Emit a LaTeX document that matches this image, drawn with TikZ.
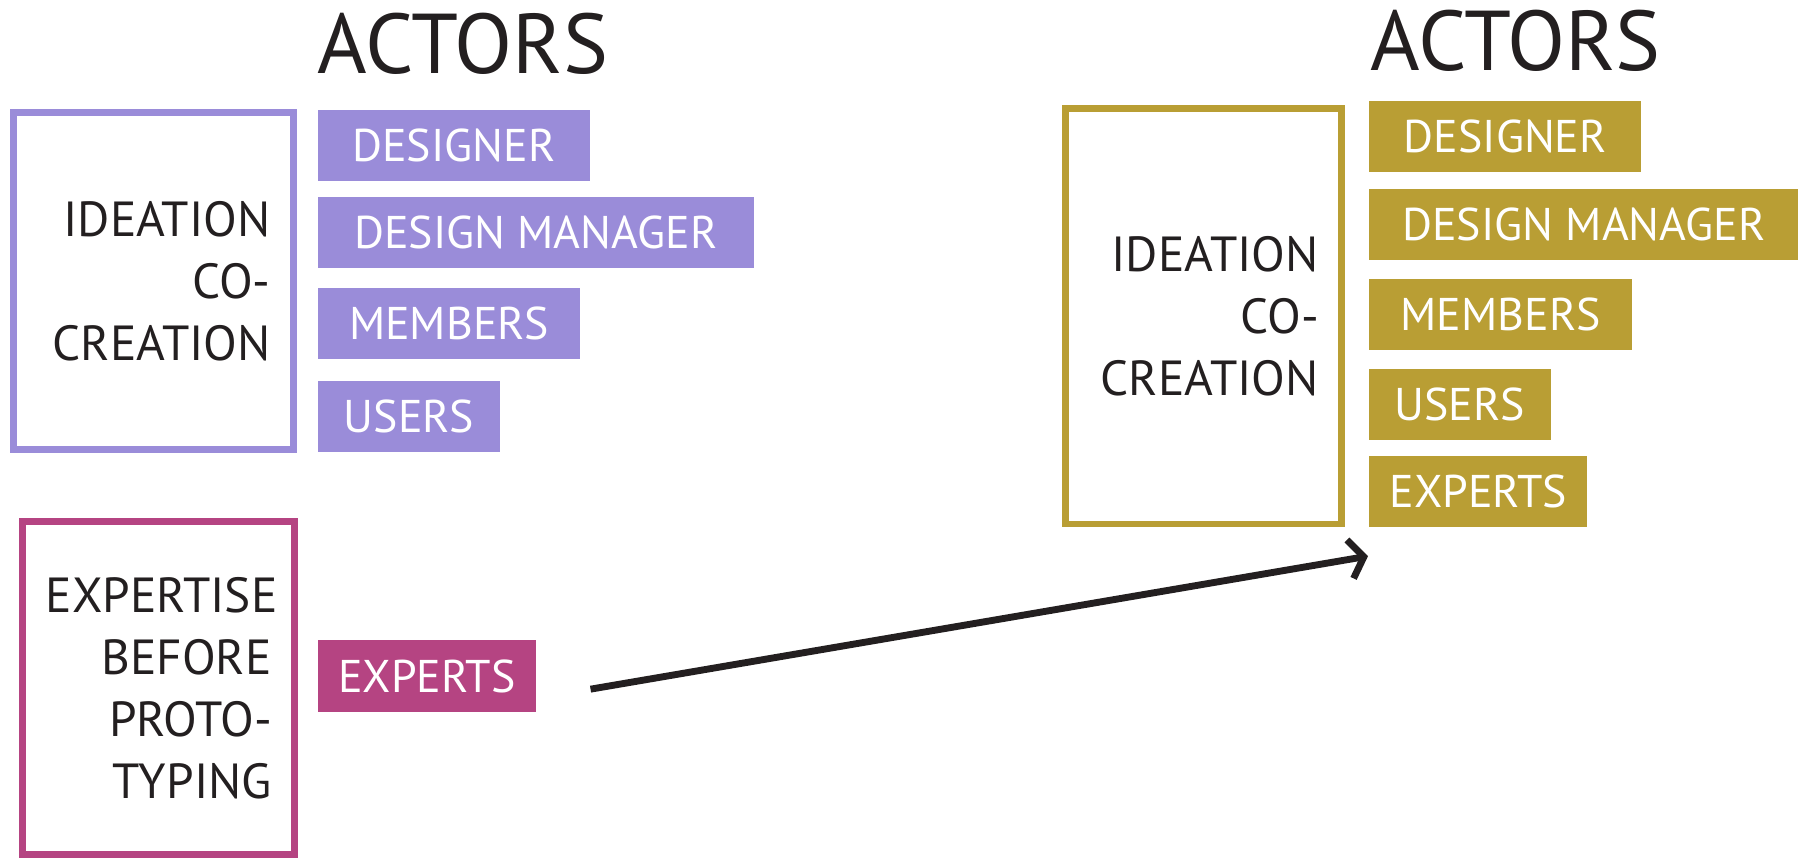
\documentclass[tikz,border=0pt]{standalone}
\usepackage{fontspec}
\setmainfont{PT Sans}
\usetikzlibrary{arrows.meta}

\definecolor{ideapurple}{RGB}{154,140,217}
\definecolor{expertmag}{RGB}{181,68,130}
\definecolor{ideagold}{RGB}{185,158,52}
\definecolor{inkdark}{RGB}{35,31,32}

\begin{document}
\begin{tikzpicture}[x=1pt, y=-1pt]
    % Styles
    \tikzstyle{phase} = [rectangle, line width=6pt, inner xsep=20pt, align=right, text=inkdark, font=\fontsize{43}{54}\selectfont]
    \tikzstyle{actor} = [rectangle, anchor=west, inner sep=0pt, minimum height=62pt, text=white, font=\fontsize{40}{48}\selectfont]
    \tikzstyle{heading} = [anchor=west, inner sep=0pt, text=inkdark, font=\fontsize{74}{80}\selectfont]
    \tikzstyle{arrow} = [-{Straight Barb[length=12pt,width=34pt]}, line width=6pt, draw=inkdark]

    \useasboundingbox (0,0) rectangle (1568,750);

    % Left side - ideation phase
    \node[heading] (actL) at (277,38) {ACTORS};
    \node[phase, draw=ideapurple, minimum width=244pt, minimum height=294pt, text width=204pt] (ideaL) at (134,245) {IDEATION\\CO-\\CREATION};
    \node[actor, fill=ideapurple, minimum width=237pt] (desL) at (277,127) {DESIGNER};
    \node[actor, fill=ideapurple, minimum width=380pt] (manL) at (277,203) {DESIGN MANAGER};
    \node[actor, fill=ideapurple, minimum width=229pt] (memL) at (277,282.5) {MEMBERS};
    \node[actor, fill=ideapurple, minimum width=159pt] (useL) at (277,363.5) {USERS};

    % Left side - expertise phase
    \node[phase, draw=expertmag, minimum width=237pt, minimum height=291pt, text width=197pt] (expertise) at (138.5,600) {EXPERTISE\\BEFORE\\PROTO-\\TYPING};
    \node[actor, fill=expertmag, minimum width=190pt] (expL) at (277,589.5) {EXPERTS};

    % Right side - ideation phase with experts
    \node[heading] (actR) at (1195,36) {ACTORS};
    \node[phase, draw=ideagold, minimum width=241pt, minimum height=362pt, text width=201pt] (ideaR) at (1049.5,276) {IDEATION\\CO-\\CREATION};
    \node[actor, fill=ideagold, minimum width=237pt] (desR) at (1194,119) {DESIGNER};
    \node[actor, fill=ideagold, minimum width=374pt] (manR) at (1194,196) {DESIGN MANAGER};
    \node[actor, fill=ideagold, minimum width=229pt] (memR) at (1194,274) {MEMBERS};
    \node[actor, fill=ideagold, minimum width=158pt] (useR) at (1194,352.5) {USERS};
    \node[actor, fill=ideagold, minimum width=190pt] (expR) at (1194,428.5) {EXPERTS};

    % Arrow
    \coordinate (arrStart) at (515,601);
    \coordinate (arrEnd) at (1193,485);
    \draw[arrow] (arrStart) -- (arrEnd);
\end{tikzpicture}
\end{document}
